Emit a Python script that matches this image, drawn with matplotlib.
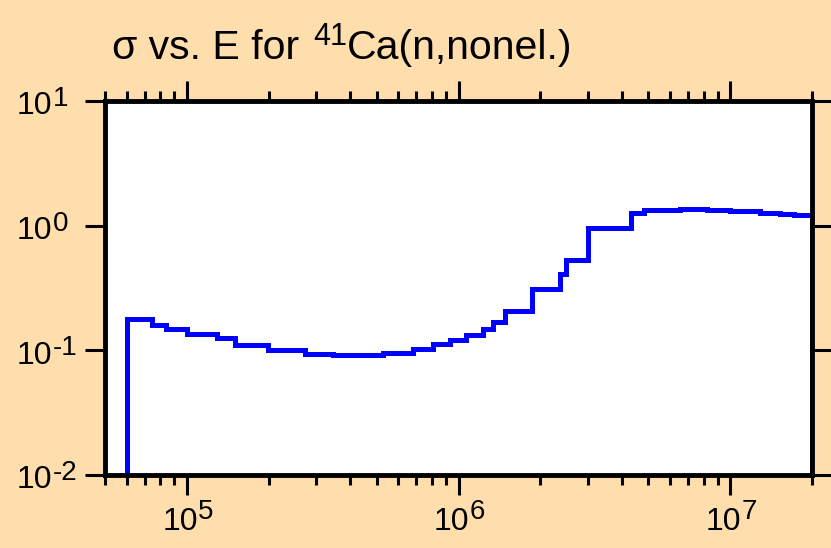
import numpy as np
import matplotlib
matplotlib.use("Agg")
import matplotlib.pyplot as plt
import matplotlib.transforms as mtransforms
from matplotlib.ticker import FixedLocator, NullLocator

plt.rcParams["font.family"] = "Liberation Sans"

# group boundaries (eV) and cross section (b) in each group
energy_edges = [6.0e4, 7.43e4, 8.4e4, 1.0e5, 1.29e5, 1.5e5, 1.99e5, 2.72e5,
                3.45e5, 4.34e5, 5.27e5, 6.8e5, 8.05e5, 9.3e5, 1.07e6, 1.23e6,
                1.34e6, 1.48e6, 1.87e6, 2.37e6, 2.49e6, 3.0e6, 4.32e6, 4.82e6,
                6.55e6, 8.2e6, 1.0e7, 1.29e7, 1.53e7, 1.71e7, 2.0e7]
sigma = [0.177, 0.16, 0.147, 0.134, 0.125, 0.111, 0.1, 0.093,
         0.091, 0.092, 0.096, 0.103, 0.112, 0.12, 0.132, 0.148,
         0.168, 0.208, 0.31, 0.41, 0.535, 0.96, 1.27, 1.34,
         1.37, 1.34, 1.3, 1.27, 1.25, 1.22]
y_floor = 1e-2
x_decades = [1e5, 1e6, 1e7]
y_decades = [1e-2, 1e-1, 1e0, 1e1]

# histogram outline, dropping to the floor at both ends
xs = np.repeat(energy_edges, 2)
ys = np.concatenate([[y_floor], np.repeat(sigma, 2), [y_floor]])

fig = plt.figure(figsize=(8.31, 5.48), dpi=100, facecolor="#FFDEAD")
ax = fig.add_axes([105 / 831, 73 / 548, 707 / 831, 374 / 548])
ax.plot(xs, ys, color="blue", lw=3.6, solid_joinstyle="miter")

ax.set_xscale("log")
ax.set_yscale("log")
ax.set_xlim(5e4, 2e7)
ax.set_ylim(1e-2, 10)
ax.xaxis.set_major_locator(FixedLocator(x_decades))
ax.yaxis.set_major_locator(FixedLocator(y_decades))
ax.yaxis.set_minor_locator(NullLocator())

for s in ax.spines.values():
    s.set_linewidth(3.5)

ax.tick_params(which="both", direction="out", top=True, right=True,
               width=2.2, colors="black", labelbottom=False, labelleft=False)
ax.tick_params(which="major", length=14.5)
ax.tick_params(which="minor", length=7)

# decade labels: "10" plus a large raised exponent
base_size, exp_size = 23, 20
xtrans = mtransforms.blended_transform_factory(ax.transData, ax.transAxes)
for v in x_decades:
    e = "%d" % round(np.log10(v))
    ax.text(v, 0, "10", fontsize=base_size, ha="right", va="baseline",
            transform=mtransforms.offset_copy(xtrans, fig, x=11, y=-55, units="dots"))
    ax.text(v, 0, e, fontsize=exp_size, ha="left", va="baseline",
            transform=mtransforms.offset_copy(xtrans, fig, x=11, y=-44, units="dots"))

ytrans = mtransforms.blended_transform_factory(fig.transFigure, ax.transData)
for v in y_decades:
    e = "%d" % round(np.log10(v))
    ax.text(17 / 831, v, "10", fontsize=base_size, ha="left", va="baseline",
            transform=mtransforms.offset_copy(ytrans, fig, y=-13.5, units="dots"))
    ax.text(53 / 831, v, e, fontsize=exp_size, ha="left", va="baseline",
            transform=mtransforms.offset_copy(ytrans, fig, y=-5, units="dots"))

# title in three pieces so the mass number can be sized on its own
fig.text(112 / 831, 1 - 59 / 548, "σ vs. E for", fontsize=29.5, va="baseline")
fig.text(313 / 831, 1 - 45 / 548, "41", fontsize=22, va="baseline")
fig.text(347 / 831, 1 - 59 / 548, "Ca(n,nonel.)", fontsize=29.5, va="baseline")

fig.savefig("out.png", dpi=100, facecolor=fig.get_facecolor())
